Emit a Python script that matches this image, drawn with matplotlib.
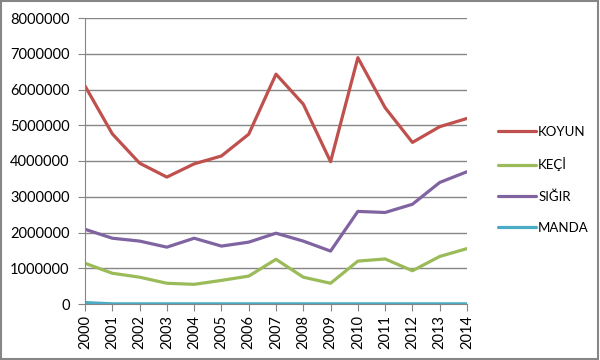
import matplotlib.pyplot as plt
from matplotlib.patches import Rectangle

plt.rcParams['font.family'] = ['Lato', 'DejaVu Sans']

years = list(range(2000, 2015))
koyun = [6100000, 4760000, 3940000, 3550000, 3920000, 4140000, 4750000, 6430000,
         5590000, 3980000, 6890000, 5490000, 4520000, 4960000, 5190000]
keci = [1140000, 860000, 750000, 580000, 550000, 660000, 780000, 1250000,
        750000, 580000, 1200000, 1260000, 930000, 1330000, 1550000]
sigir = [2090000, 1840000, 1760000, 1590000, 1840000, 1620000, 1730000, 1980000,
         1760000, 1480000, 2590000, 2560000, 2790000, 3400000, 3700000]
manda = [40000, 5000, 5000, 5000, 5000, 5000, 5000, 5000,
         5000, 5000, 5000, 5000, 5000, 5000, 5000]

names = ['KOYUN', 'KEÇİ', 'SIĞIR', 'MANDA']
colors = ['#C0504D', '#9BBB59', '#8064A2', '#4BACC6']

fig = plt.figure(figsize=(6, 3.6), dpi=100)
ax = fig.add_axes([85 / 600, 1 - 304 / 360, 382 / 600, 286 / 360])

for vals, name, c in zip([koyun, keci, sigir, manda], names, colors):
    ax.plot(years, vals, color=c, linewidth=2.3, label=name, solid_capstyle='round')

ax.set_xlim(2000, 2014)
ax.set_ylim(0, 8000000)
ax.set_yticks(range(0, 8000001, 1000000))
ax.set_yticklabels([str(v) for v in range(0, 8000001, 1000000)])
ax.set_xticks(years)
ax.set_xticklabels([str(y) for y in years], rotation=90)
ax.grid(axis='y', color='#868686', linewidth=1)
ax.set_axisbelow(True)
for s in ['top', 'right']:
    ax.spines[s].set_visible(False)
for s in ['left', 'bottom']:
    ax.spines[s].set_color('#868686')
ax.tick_params(axis='both', colors='#868686', labelcolor='black', labelsize=10.5, length=5)
ax.tick_params(axis='y', pad=6)
ax.tick_params(axis='x', pad=3)

leg = fig.legend(loc='center left', bbox_to_anchor=(486 / 600, 1 - 180 / 360), frameon=False,
                 fontsize=9.5, handlelength=2.9, handletextpad=0.15, labelspacing=1.45)

fig.patches.append(Rectangle((0.002, 0.003), 0.994, 0.994, transform=fig.transFigure,
                             fill=False, edgecolor='#868686', linewidth=1.5))

fig.savefig('out.png', dpi=100)
